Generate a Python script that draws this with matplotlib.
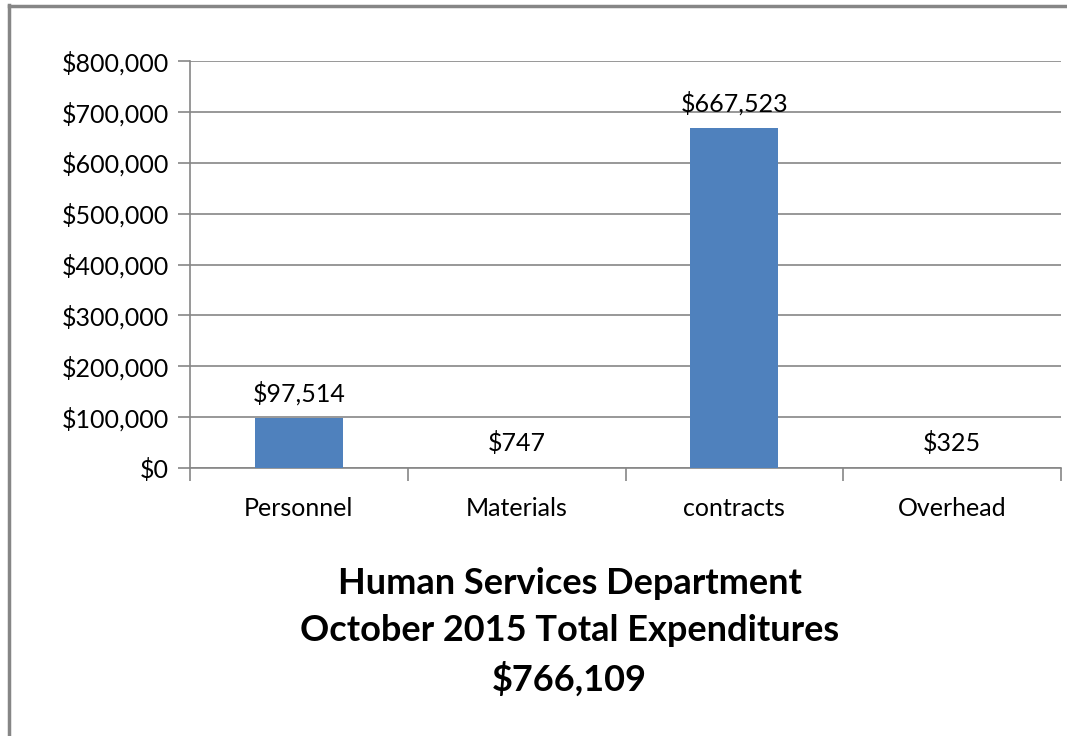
import matplotlib.pyplot as plt
from matplotlib.ticker import FuncFormatter, MultipleLocator
from matplotlib.lines import Line2D

# Expenditure categories and amounts for October 2015
categories = ['Personnel', 'Materials', 'contracts', 'Overhead']
amounts = [97514, 747, 667523, 325]
total = 766109

plt.rcParams['font.family'] = ['Lato', 'DejaVu Sans']

fig = plt.figure(figsize=(10.67, 7.36), dpi=100)
ax = fig.add_axes([190 / 1067, 1 - 468 / 736, 871 / 1067, 407 / 736])

grid_col = '#868686'
x = range(len(categories))
ax.bar(x, amounts, width=0.405, color='#4F81BD', zorder=3)

ax.set_xlim(-0.5, len(categories) - 0.5)
ax.set_ylim(0, 800000)
ax.yaxis.set_major_locator(MultipleLocator(100000))
ax.yaxis.set_major_formatter(FuncFormatter(lambda v, p: '${:,.0f}'.format(v)))
ax.grid(axis='y', color=grid_col, linewidth=1.2, zorder=0)

ax.set_xticks(list(x))
ax.set_xticklabels(categories)
ax.set_xticks([i - 0.5 for i in range(len(categories) + 1)], minor=True)
ax.tick_params(axis='x', which='major', length=0, pad=21, labelsize=18)
ax.tick_params(axis='x', which='minor', length=9, color=grid_col, width=1.2)
ax.tick_params(axis='y', length=9, color=grid_col, width=1.2, pad=6, labelsize=18)

for side in ['top', 'right']:
    ax.spines[side].set_visible(False)
for side in ['left', 'bottom']:
    ax.spines[side].set_color(grid_col)
    ax.spines[side].set_linewidth(1.2)

# value labels above each bar
for i, v in enumerate(amounts):
    ax.annotate('${:,.0f}'.format(v), (i, v), xytext=(0, 9),
                textcoords='offset points', ha='center', va='bottom',
                fontsize=18)

fig.text(0.534, 1 - 632 / 736,
         'Human Services Department\nOctober 2015 Total Expenditures\n${:,.0f}'.format(total),
         ha='center', va='center', fontsize=26, fontweight='bold',
         linespacing=1.5)

# outer chart border (left and top edges)
fig.add_artist(Line2D([8.5 / 1067, 8.5 / 1067], [0, 1 - 5 / 736],
                      transform=fig.transFigure, color=grid_col, linewidth=2.5))
fig.add_artist(Line2D([8.5 / 1067, 1], [1 - 6 / 736, 1 - 6 / 736],
                      transform=fig.transFigure, color=grid_col, linewidth=2.5))

fig.savefig('out.png', dpi=100)
